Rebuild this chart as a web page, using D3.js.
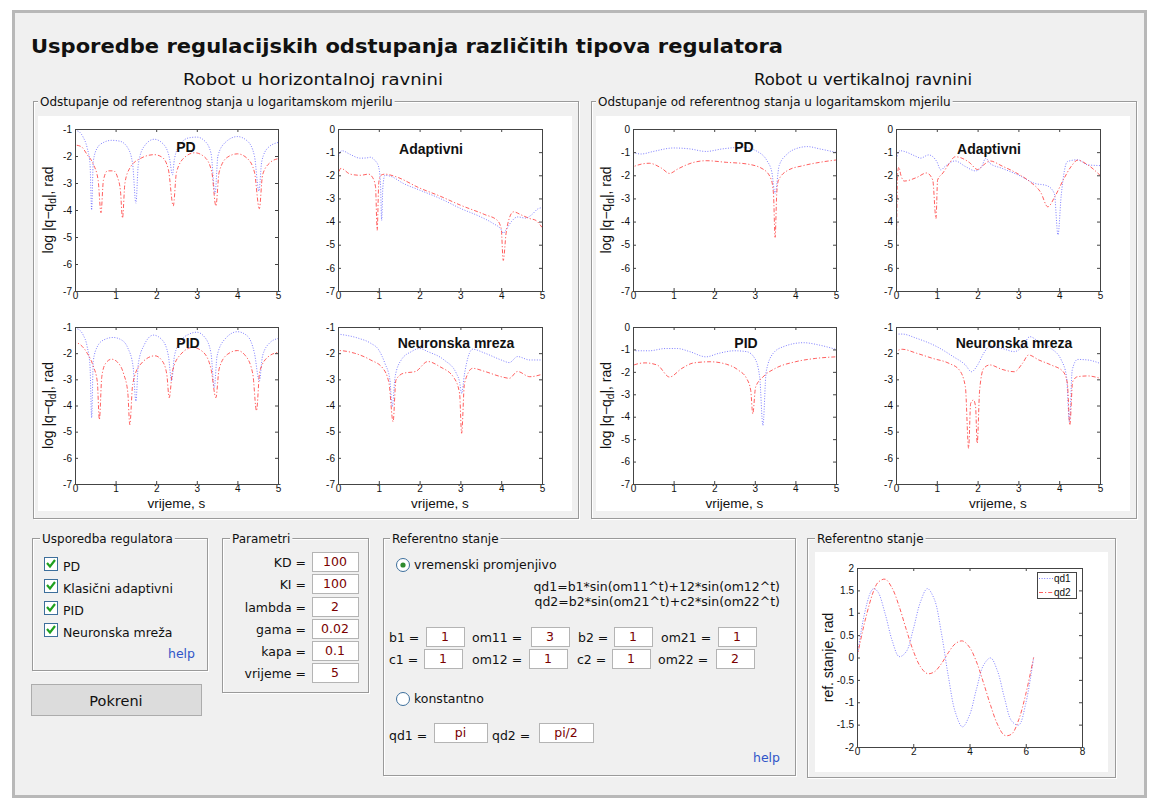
<!DOCTYPE html>
<html>
<head>
<meta charset="utf-8">
<script src="https://cdn.jsdelivr.net/npm/d3@7"></script>
<style>
  body { margin: 0; background: #fff; }
  svg text { font-family: "DejaVu Sans", sans-serif; fill: #111; }
</style>
</head>
<body>
<svg id="gui" width="1151" height="799"></svg>
<script>
// ---- data: [t (s), log|q-qd| (rad)] ----
const timeTicks = [0, 1, 2, 3, 4, 5];

// robot in horizontal plane
const horPD_q1 = [[0,-1.05],[0.1,-1.1],[0.2,-1.3],[0.3,-1.7],[0.37,-2.3],[0.41,-4.0],[0.45,-2.2],[0.55,-1.7],[0.7,-1.5],[0.9,-1.42],[1.1,-1.45],[1.3,-1.7],[1.42,-2.3],[1.5,-3.75],[1.56,-2.3],[1.7,-1.65],[1.95,-1.38],[2.2,-1.6],[2.33,-2.1],[2.4,-2.7],[2.45,-2.1],[2.6,-1.55],[2.8,-1.33],[3.0,-1.3],[3.2,-1.45],[3.35,-1.9],[3.45,-3.4],[3.52,-2.0],[3.7,-1.5],[4.0,-1.28],[4.25,-1.45],[4.42,-2.0],[4.53,-3.3],[4.6,-2.2],[4.75,-1.7],[5.0,-1.5]];
const horPD_q2 = [[0,-7],[0.01,-1.6],[0.15,-1.65],[0.3,-1.95],[0.45,-2.3],[0.57,-2.9],[0.64,-4.1],[0.7,-2.9],[0.8,-2.55],[0.95,-2.55],[1.05,-2.8],[1.12,-3.3],[1.17,-4.3],[1.23,-3.0],[1.35,-2.45],[1.6,-2.1],[1.95,-1.95],[2.15,-2.05],[2.3,-2.5],[2.42,-3.85],[2.5,-2.6],[2.7,-2.05],[2.95,-1.88],[3.2,-2.05],[3.37,-2.6],[3.47,-3.85],[3.55,-2.6],[3.75,-2.05],[4.0,-1.92],[4.25,-2.1],[4.42,-2.6],[4.54,-3.95],[4.62,-2.7],[4.8,-2.25],[5.0,-2.1]];
const horAd_q1 = [[0,-1.3],[0.05,-1.0],[0.1,-0.94],[0.3,-1.1],[0.54,-1.26],[0.7,-1.25],[0.8,-1.22],[0.9,-1.35],[0.99,-1.6],[1.04,-2.3],[1.07,-3.95],[1.1,-2.5],[1.15,-2.0],[1.3,-2.05],[1.6,-2.35],[2.0,-2.64],[2.5,-3.0],[3.0,-3.43],[3.5,-3.8],[3.8,-4.08],[4.0,-4.35],[4.05,-4.5],[4.12,-4.35],[4.25,-4.0],[4.4,-3.8],[4.6,-3.85],[4.75,-3.7],[4.9,-3.45],[5.0,-3.4]];
const horAd_q2 = [[0,-7],[0.01,-2.0],[0.07,-1.7],[0.3,-1.95],[0.55,-2.0],[0.75,-1.95],[0.85,-2.1],[0.92,-2.5],[0.96,-4.38],[1.0,-2.3],[1.05,-2.0],[1.15,-1.95],[1.4,-2.05],[2.0,-2.55],[2.5,-2.9],[3.0,-3.29],[3.6,-3.7],[3.9,-3.94],[4.0,-4.3],[4.05,-5.68],[4.12,-4.5],[4.2,-3.85],[4.3,-3.58],[4.5,-3.72],[4.7,-3.87],[4.85,-3.95],[5.0,-4.25]];
const horPID_q1 = [[0,-1.05],[0.1,-1.1],[0.2,-1.3],[0.3,-1.75],[0.37,-2.5],[0.41,-4.47],[0.45,-2.3],[0.55,-1.75],[0.7,-1.5],[0.94,-1.4],[1.15,-1.5],[1.3,-1.8],[1.43,-2.5],[1.5,-3.83],[1.56,-2.4],[1.7,-1.7],[1.93,-1.31],[2.15,-1.5],[2.3,-2.1],[2.38,-3.06],[2.45,-2.1],[2.6,-1.55],[2.8,-1.28],[3.0,-1.2],[3.2,-1.4],[3.35,-2.0],[3.43,-3.32],[3.5,-2.1],[3.7,-1.45],[4.0,-1.18],[4.25,-1.35],[4.42,-2.0],[4.54,-3.06],[4.62,-2.1],[4.8,-1.6],[5.0,-1.44]];
const horPID_q2 = [[0,-7],[0.01,-1.6],[0.15,-1.7],[0.3,-2.0],[0.45,-2.5],[0.55,-3.1],[0.6,-4.54],[0.66,-2.9],[0.75,-2.4],[0.9,-2.23],[1.05,-2.35],[1.2,-2.8],[1.3,-3.5],[1.35,-4.73],[1.42,-3.2],[1.6,-2.45],[1.97,-2.1],[2.15,-2.3],[2.26,-2.8],[2.32,-3.7],[2.4,-2.7],[2.6,-2.05],[2.9,-1.78],[3.15,-1.95],[3.35,-2.6],[3.47,-3.7],[3.55,-2.6],[3.75,-2.05],[4.0,-1.9],[4.2,-2.1],[4.38,-2.8],[4.47,-4.2],[4.55,-2.7],[4.75,-2.15],[5.0,-1.97]];
const horNN_q1 = [[0,-1.27],[0.5,-1.43],[0.8,-1.62],[1.0,-1.88],[1.15,-2.39],[1.27,-3.0],[1.33,-4.04],[1.4,-2.9],[1.55,-2.26],[1.8,-1.94],[2.0,-1.82],[2.2,-1.94],[2.6,-2.26],[2.9,-2.77],[2.98,-3.1],[3.03,-3.54],[3.1,-2.8],[3.15,-2.39],[3.3,-1.85],[3.6,-2.0],[4.0,-2.26],[4.2,-2.36],[4.4,-2.13],[4.7,-2.26],[5.0,-2.26]];
const horNN_q2 = [[0,-7],[0.01,-1.9],[0.4,-2.0],[0.8,-2.26],[1.1,-2.58],[1.25,-3.15],[1.35,-4.62],[1.42,-3.03],[1.6,-2.77],[1.9,-2.7],[2.2,-2.32],[2.5,-2.52],[2.85,-2.96],[2.98,-3.54],[3.03,-5.06],[3.1,-3.15],[3.3,-2.58],[3.6,-2.7],[4.0,-2.9],[4.2,-2.96],[4.4,-2.7],[4.7,-2.9],[5.0,-2.81]];

// robot in vertical plane
const verPD_q1 = [[0,-1.01],[0.2,-1.08],[0.5,-0.97],[1.0,-0.82],[1.4,-0.86],[1.8,-0.97],[2.2,-0.86],[2.7,-0.79],[3.1,-1.01],[3.3,-1.37],[3.42,-1.87],[3.5,-2.81],[3.6,-1.58],[3.8,-1.08],[4.0,-0.86],[4.3,-0.76],[4.6,-0.86],[5.0,-1.01]];
const verPD_q2 = [[0,-7],[0.01,-1.63],[0.4,-1.48],[0.7,-1.69],[0.9,-1.92],[1.1,-1.73],[1.5,-1.44],[1.8,-1.37],[2.3,-1.44],[2.8,-1.51],[3.2,-1.73],[3.4,-2.16],[3.46,-2.8],[3.5,-4.68],[3.54,-2.8],[3.58,-2.23],[3.8,-1.8],[4.2,-1.58],[4.6,-1.44],[5.0,-1.34]];
const verAd_q1 = [[0,-1.41],[0.05,-1.04],[0.1,-0.94],[0.5,-1.19],[0.6,-1.26],[0.8,-1.12],[1.0,-1.41],[1.1,-1.77],[1.2,-1.62],[1.45,-1.38],[1.7,-1.62],[1.95,-1.81],[2.1,-1.62],[2.2,-1.26],[2.3,-1.48],[2.6,-1.7],[3.0,-1.99],[3.4,-2.35],[3.7,-2.45],[3.88,-2.78],[3.97,-4.57],[4.05,-2.86],[4.2,-1.41],[4.45,-1.33],[4.7,-1.55],[5.0,-1.58]];
const verAd_q2 = [[0,-7],[0.04,-1.9],[0.07,-1.65],[0.12,-2.0],[0.2,-2.25],[0.5,-2.1],[0.75,-1.9],[0.9,-2.2],[0.98,-3.87],[1.02,-2.2],[1.15,-1.9],[1.3,-1.5],[1.45,-1.2],[1.6,-1.25],[1.8,-1.45],[2.0,-1.75],[2.15,-1.55],[2.3,-1.38],[2.6,-1.6],[3.0,-1.95],[3.3,-2.3],[3.55,-2.75],[3.72,-3.36],[3.9,-2.9],[4.1,-2.2],[4.3,-1.6],[4.45,-1.35],[4.7,-1.55],[5.0,-2.0]];
const verPID_q1 = [[0,-1.06],[0.4,-1.06],[0.8,-0.96],[1.1,-0.96],[1.4,-1.1],[1.8,-1.33],[2.1,-1.18],[2.5,-1.06],[2.8,-1.1],[3.0,-1.4],[3.12,-2.23],[3.2,-4.39],[3.28,-2.0],[3.45,-1.18],[3.7,-0.88],[4.2,-0.7],[4.6,-0.81],[5.0,-1.0]];
const verPID_q2 = [[0,-7],[0.01,-1.7],[0.3,-1.6],[0.6,-1.7],[0.9,-2.23],[1.2,-1.85],[1.5,-1.6],[1.9,-1.55],[2.3,-1.66],[2.6,-1.93],[2.8,-2.3],[2.9,-2.83],[2.95,-3.87],[3.02,-2.68],[3.2,-2.23],[3.5,-1.85],[4.0,-1.55],[4.5,-1.4],[5.0,-1.33]];
const verNN_q1 = [[0,-1.27],[0.15,-1.27],[0.5,-1.43],[1.0,-1.75],[1.4,-2.13],[1.7,-2.45],[1.85,-2.71],[2.0,-2.45],[2.15,-2.0],[2.3,-1.73],[2.6,-1.82],[2.9,-1.94],[3.1,-1.75],[3.28,-1.37],[3.5,-1.56],[3.8,-1.82],[4.05,-2.26],[4.18,-2.9],[4.25,-4.62],[4.32,-2.64],[4.45,-2.24],[4.7,-2.26],[5.0,-2.39]];
const verNN_q2 = [[0,-7],[0.01,-1.94],[0.15,-1.85],[0.5,-2.0],[0.9,-2.2],[1.3,-2.39],[1.55,-2.64],[1.7,-3.28],[1.78,-5.64],[1.83,-3.92],[1.9,-3.79],[1.95,-4.04],[1.99,-5.45],[2.05,-3.41],[2.15,-2.58],[2.3,-2.45],[2.6,-2.62],[2.9,-2.71],[3.1,-2.39],[3.25,-2.07],[3.5,-2.26],[3.8,-2.45],[4.1,-2.71],[4.2,-3.15],[4.26,-4.75],[4.33,-3.09],[4.45,-2.9],[4.7,-2.87],[5.0,-2.96]];

// reference trajectory plot
const refT   = [0,0.25,0.5,0.6,0.75,1,1.25,1.5,1.75,2,2.25,2.5,2.75,3,3.25,3.5,3.75,4,4.25,4.5,4.75,5,5.25,5.5,5.75,6,6.28];
const refQd1 = [0,0.93,1.48,1.54,1.46,0.98,0.38,0.02,0.13,0.63,1.23,1.54,1.30,0.55,-0.43,-1.23,-1.55,-1.29,-0.70,-0.17,-0.01,-0.31,-0.92,-1.42,-1.51,-1.03,0];
const refQd2 = [0,0.73,1.32,1.50,1.68,1.75,1.55,1.14,0.63,0.15,-0.20,-0.36,-0.32,-0.14,0.11,0.31,0.37,0.23,-0.10,-0.57,-1.07,-1.50,-1.74,-1.71,-1.39,-0.82,0];
const refXTicks = [0, 2, 4, 6, 8];
const refYTicks = [-2, -1.5, -1, -0.5, 0, 0.5, 1, 1.5, 2];

// GUI values
const regulators = ["PD", "Klasični adaptivni", "PID", "Neuronska mreža"];
const paramNames = ["KD", "KI", "lambda", "gama", "kapa", "vrijeme"];
const paramValues = ["100", "100", "2", "0.02", "0.1", "5"];

// ---- layout ----
const BG = "#f0f0f0";
const panelDx = [0, 558];
const colX = [[75, 278], [338, 542]];
const rowY = [[129, 291], [327, 484]];

const plots = [
  {p: 0, c: 0, r: 0, title: "PD",              yTop: -1, q1: horPD_q1,  q2: horPD_q2,  tx: 111, ty: 23},
  {p: 0, c: 1, r: 0, title: "Adaptivni",       yTop: 0,  q1: horAd_q1,  q2: horAd_q2,  tx: 93,  ty: 25},
  {p: 0, c: 0, r: 1, title: "PID",             yTop: -1, q1: horPID_q1, q2: horPID_q2, tx: 113, ty: 21},
  {p: 0, c: 1, r: 1, title: "Neuronska mreza", yTop: -1, q1: horNN_q1,  q2: horNN_q2,  tx: 118, ty: 21},
  {p: 1, c: 0, r: 0, title: "PD",              yTop: 0,  q1: verPD_q1,  q2: verPD_q2,  tx: 111, ty: 23},
  {p: 1, c: 1, r: 0, title: "Adaptivni",       yTop: 0,  q1: verAd_q1,  q2: verAd_q2,  tx: 93,  ty: 25},
  {p: 1, c: 0, r: 1, title: "PID",             yTop: 0,  q1: verPID_q1, q2: verPID_q2, tx: 113, ty: 21},
  {p: 1, c: 1, r: 1, title: "Neuronska mreza", yTop: -1, q1: verNN_q1,  q2: verNN_q2,  tx: 118, ty: 21}
];

const svg = d3.select("#gui");

// window frame
svg.append("rect").attr("x", 13.5).attr("y", 11.5).attr("width", 1132).attr("height", 785)
  .attr("fill", BG).attr("stroke", "#b8b8b8").attr("stroke-width", 3);

svg.append("text").attr("x", 31).attr("y", 53).text("Usporedbe regulacijskih odstupanja različitih tipova regulatora")
  .style("font-size", "19px").style("font-weight", "bold").attr("textLength", 752).attr("lengthAdjust", "spacingAndGlyphs");
svg.append("text").attr("x", 183).attr("y", 85).text("Robot u horizontalnoj ravnini")
  .style("font-size", "16px").attr("textLength", 260).attr("lengthAdjust", "spacingAndGlyphs");
svg.append("text").attr("x", 754).attr("y", 85).text("Robot u vertikalnoj ravnini")
  .style("font-size", "16px").attr("textLength", 218).attr("lengthAdjust", "spacingAndGlyphs");

function groupBox(x, y, w, h, title, tx) {
  const g = svg.append("g");
  g.append("rect").attr("x", x + 1.5).attr("y", y + 1.5).attr("width", w).attr("height", h)
    .attr("fill", "none").attr("stroke", "#fff");
  g.append("rect").attr("x", x + 0.5).attr("y", y + 0.5).attr("width", w).attr("height", h)
    .attr("fill", "none").attr("stroke", "#9a9a9a");
  const t = g.append("text").attr("x", tx).attr("y", y + 5).text(title).style("font-size", "12px");
  const b = t.node().getBBox();
  g.insert("rect", "text").attr("x", b.x - 2).attr("y", b.y).attr("width", b.width + 4)
    .attr("height", b.height).attr("fill", BG);
  return g;
}

// the two plot panels
panelDx.forEach(dx => {
  groupBox(33 + dx, 101, 545, 417, "Odstupanje od referentnog stanja u logaritamskom mjerilu", 40 + dx);
  svg.append("rect").attr("x", 38 + dx).attr("y", 116).attr("width", 534).attr("height", 395).attr("fill", "#fff");
});

function styleTicks(sel) {
  sel.select(".domain").remove();
  sel.selectAll("line").attr("stroke", "#444");
  sel.selectAll("text").style("font-family", "'Liberation Sans', Arial, sans-serif")
    .style("font-size", "10px").attr("fill", "#111");
}

function drawAxes(g, x, y, xt, yt) {
  const [x0, x1] = x.range();
  const [y1, y0] = y.range();
  g.append("g").attr("transform", `translate(0,${y1})`)
    .call(d3.axisBottom(x).tickValues(xt).tickSize(-3).tickPadding(1).tickFormat(d => String(d))).call(styleTicks);
  g.append("g").attr("transform", `translate(${x0},0)`)
    .call(d3.axisLeft(y).tickValues(yt).tickSize(-3).tickPadding(3).tickFormat(d => String(d))).call(styleTicks);
  g.append("g").attr("transform", `translate(0,${y0})`)
    .call(d3.axisTop(x).tickValues(xt).tickSize(-3).tickFormat("")).call(styleTicks);
  g.append("g").attr("transform", `translate(${x1},0)`)
    .call(d3.axisRight(y).tickValues(yt).tickSize(-3).tickFormat("")).call(styleTicks);
  g.append("rect").attr("x", x0 + 0.5).attr("y", y0 + 0.5).attr("width", x1 - x0).attr("height", y1 - y0)
    .attr("fill", "none").attr("stroke", "#444");
}

function drawSeries(g, data, line, kind, clipId) {
  const path = g.append("path").datum(data).attr("d", line).attr("fill", "none")
    .attr("stroke", kind === "q1" ? "#3a3aff" : "#ff2a2a")
    .attr("stroke-width", 1)
    .attr("stroke-opacity", kind === "q1" ? 0.65 : 0.75)
    .attr("stroke-dasharray", kind === "q1" ? "1,1.6" : "4,2,1.2,2");
  if (clipId) path.attr("clip-path", `url(#${clipId})`);
}

plots.forEach((p, i) => {
  const dx = panelDx[p.p];
  const x = d3.scaleLinear().domain([0, 5]).range([colX[p.c][0] + dx, colX[p.c][1] + dx]);
  const y = d3.scaleLinear().domain([-7, p.yTop]).range([rowY[p.r][1], rowY[p.r][0]]);
  const g = svg.append("g");
  const clipId = "clip" + i;
  g.append("clipPath").attr("id", clipId).append("rect")
    .attr("x", x.range()[0]).attr("y", y.range()[1]).attr("width", x.range()[1] - x.range()[0])
    .attr("height", y.range()[0] - y.range()[1]);
  const line = d3.line().x(d => x(d[0])).y(d => y(d[1])).curve(d3.curveMonotoneX);
  drawSeries(g, p.q1, line, "q1", clipId);
  drawSeries(g, p.q2, line, "q2", clipId);
  drawAxes(g, x, y, timeTicks, d3.range(-7, p.yTop + 1));

  g.append("text").attr("x", x.range()[0] + p.tx).attr("y", y.range()[1] + p.ty)
    .attr("text-anchor", "middle").text(p.title)
    .style("font-family", "'Liberation Sans', Arial, sans-serif").style("font-size", "14px").style("font-weight", "bold");

  const cx = (x.range()[0] + x.range()[1]) / 2;
  const cy = (y.range()[0] + y.range()[1]) / 2;
  if (p.c === 0) {
    const yl = g.append("text").attr("transform", `translate(${53 + dx},${cy}) rotate(-90)`)
      .attr("text-anchor", "middle")
      .style("font-family", "'Liberation Sans', Arial, sans-serif").style("font-size", "14px");
    yl.append("tspan").text("log |q\u2212q");
    yl.append("tspan").text("d").attr("dy", 3).style("font-size", "10px");
    yl.append("tspan").text("|,  rad").attr("dy", -3);
  }
  if (p.r === 1) {
    g.append("text").attr("x", cx).attr("y", 507.5).attr("text-anchor", "middle").text("vrijeme, s")
      .style("font-family", "'Liberation Sans', Arial, sans-serif").style("font-size", "13.5px");
  }
});

// ---- controls ----
function inputBox(x, y, w, h, val) {
  svg.append("rect").attr("x", x + 0.5).attr("y", y + 0.5).attr("width", w).attr("height", h)
    .attr("fill", "#fff").attr("stroke", "#b4b4b4");
  svg.append("text").attr("x", x + w / 2).attr("y", y + h - 5).attr("text-anchor", "middle")
    .text(val).style("font-size", "12.5px").style("fill", "#7a0000");
}
function label(x, y, txt, anchor) {
  return svg.append("text").attr("x", x).attr("y", y).attr("text-anchor", anchor || "start")
    .text(txt).style("font-size", "12.5px");
}
function helpLink(x, y) {
  svg.append("text").attr("x", x).attr("y", y).text("help").style("font-size", "12.5px").style("fill", "#2f55c8");
}

// Usporedba regulatora
groupBox(32, 538, 175, 132, "Usporedba regulatora", 42);
const checkY = [557, 579, 601, 623];
regulators.forEach((r, i) => {
  const cy = checkY[i];
  svg.append("rect").attr("x", 44.5).attr("y", cy + 0.5).attr("width", 13).attr("height", 13)
    .attr("fill", "#fff").attr("stroke", "#3d6f9c");
  svg.append("path").attr("d", `M47,${cy + 6} L50,${cy + 9.5} L55,${cy + 3}`)
    .attr("fill", "none").attr("stroke", "#1fa01f").attr("stroke-width", 2.2);
  label(63, cy + 14, r);
});
helpLink(168, 658);

// Pokreni button
svg.append("rect").attr("x", 31.5).attr("y", 684.5).attr("width", 170).attr("height", 31)
  .attr("fill", "#dcdcdc").attr("stroke", "#acacac");
svg.append("text").attr("x", 116).attr("y", 706).attr("text-anchor", "middle").text("Pokreni").style("font-size", "14.5px");

// Parametri
groupBox(222, 538, 146, 154, "Parametri", 232);
const paramY = [552, 574, 597, 619, 641, 663];
paramNames.forEach((n, i) => {
  label(306, paramY[i] + 15, n + " =", "end");
  inputBox(312, paramY[i], 46, 19, paramValues[i]);
});

// Referentno stanje (controls)
groupBox(383, 538, 412, 237, "Referentno stanje", 392);
function radio(cx, cy, on) {
  svg.append("circle").attr("cx", cx).attr("cy", cy).attr("r", 6.5).attr("fill", "#fff").attr("stroke", "#3d6f9c");
  if (on) svg.append("circle").attr("cx", cx).attr("cy", cy).attr("r", 2.6).attr("fill", "#2e8b2e");
}
radio(403, 565, true);
label(414, 569, "vremenski promjenjivo");
label(780, 591, "qd1=b1*sin(om11^t)+12*sin(om12^t)", "end");
label(780, 606, "qd2=b2*sin(om21^t)+c2*sin(om22^t)", "end");

const refRows = [
  {y: 627, items: [["b1 =", 389, 426, "1"], ["om11 =", 472, 531, "3"], ["b2 =", 578, 614, "1"], ["om21 =", 661, 718, "1"]]},
  {y: 649, items: [["c1 =", 389, 424, "1"], ["om12 =", 472, 529, "1"], ["c2 =", 577, 612, "1"], ["om22 =", 658, 716, "2"]]}
];
refRows.forEach(row => row.items.forEach(([lab, lx, bx, v]) => {
  label(lx, row.y + 15, lab);
  inputBox(bx, row.y, 38, 19, v);
}));

radio(403, 699, false);
label(414, 703, "konstantno");
label(389, 740, "qd1 =");
inputBox(434, 723, 53, 19, "pi");
label(492, 740, "qd2 =");
inputBox(539, 723, 54, 19, "pi/2");
helpLink(753, 762);

// Referentno stanje (plot)
groupBox(807, 538, 308, 239, "Referentno stanje", 817);
svg.append("rect").attr("x", 815).attr("y", 552).attr("width", 293).attr("height", 220).attr("fill", "#fff");
{
  const x = d3.scaleLinear().domain([0, 8]).range([857, 1082]);
  const y = d3.scaleLinear().domain([-2, 2]).range([747, 568]);
  const g = svg.append("g");
  const line = d3.line().x((d, i) => x(refT[i])).y(d => y(d)).curve(d3.curveCatmullRom);
  g.append("clipPath").attr("id", "clipRef").append("rect").attr("x", 857).attr("y", 568).attr("width", 225).attr("height", 179);
  drawSeries(g, refQd1, line, "q1", "clipRef");
  drawSeries(g, refQd2, line, "q2", "clipRef");
  drawAxes(g, x, y, refXTicks, refYTicks);
  g.append("text").attr("transform", "translate(833,657.5) rotate(-90)").attr("text-anchor", "middle")
    .text("ref. stanje, rad").style("font-family", "'Liberation Sans', Arial, sans-serif").style("font-size", "14px");

  // legend
  g.append("rect").attr("x", 1037.5).attr("y", 572.5).attr("width", 39).attr("height", 26)
    .attr("fill", "#fff").attr("stroke", "#444");
  [["qd1", "q1", 578.5], ["qd2", "q2", 592.5]].forEach(([name, kind, ly]) => {
    drawSeries(g, [[1039, ly], [1053, ly]], d3.line(), kind, null);
    g.append("text").attr("x", 1054).attr("y", ly + 3.5).text(name)
      .style("font-family", "'Liberation Sans', Arial, sans-serif").style("font-size", "10px");
  });
}
</script>
</body>
</html>
